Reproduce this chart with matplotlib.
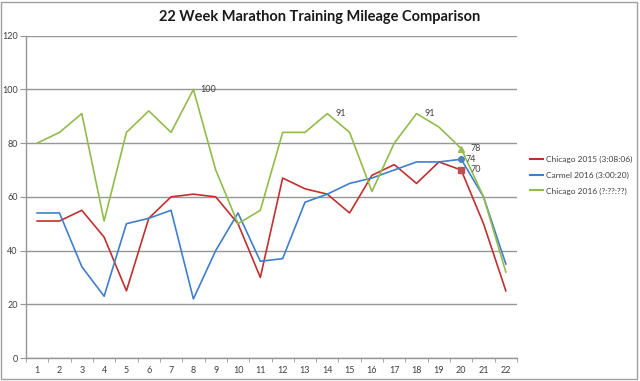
import matplotlib
matplotlib.use("Agg")
import matplotlib.pyplot as plt
from matplotlib.lines import Line2D
from matplotlib.patches import Rectangle

plt.rcParams['font.family'] = ['Lato', 'DejaVu Sans']

weeks = list(range(1, 23))
chicago_2015 = [51, 51, 55, 45, 25, 52, 60, 61, 60, 50, 30, 67, 63, 61, 54, 68, 72, 65, 73, 70, 50, 25]
carmel_2016 = [54, 54, 34, 23, 50, 52, 55, 22, 40, 54, 36, 37, 58, 61, 65, 67, 70, 73, 73, 74, 60, 35]
chicago_2016 = [80, 84, 91, 51, 84, 92, 84, 100, 70, 50, 55, 84, 84, 91, 84, 62, 80, 91, 86, 78, 60, 32]
series_names = ["Chicago 2015 (3:08:06)", "Carmel 2016 (3:00:20)", "Chicago 2016 (?:??:??)"]
title = "22 Week Marathon Training Mileage Comparison"

red = "#C0302E"
blue = "#3F7FCC"
green = "#92BC4A"
red_m = "#C0504D"
blue_m = "#4F81BD"
green_m = "#9BBB59"
text_col = "#404040"

fig = plt.figure(figsize=(6.4, 3.81), dpi=100)
fig.patch.set_facecolor("white")
fig.patches.append(Rectangle((0.002, 0.004), 0.994, 0.99, transform=fig.transFigure,
                             fill=False, edgecolor="#A0A0A0", linewidth=1.0))

W, H = 640, 381
ax = fig.add_axes([26 / W, 23 / H, (517 - 26) / W, (358 - 35.7) / H])
ax.set_xlim(0.5, 22.5)
ax.set_ylim(0, 120)
ax.set_yticks(range(0, 121, 20))
ax.yaxis.grid(True, color="#969696", linewidth=1.0)
ax.set_axisbelow(True)
for s in ["top", "right"]:
    ax.spines[s].set_visible(False)
for s in ["left", "bottom"]:
    ax.spines[s].set_color("#969696")
    ax.spines[s].set_linewidth(1.0)

ax.set_xticks(weeks)
ax.set_xticks([w + 0.5 for w in [0] + weeks], minor=True)
ax.tick_params(axis="x", which="major", length=0, pad=6, labelsize=6.5, labelcolor=text_col)
ax.tick_params(axis="x", which="minor", length=3, color="#969696", direction="out")
ax.tick_params(axis="y", length=4, color="#969696", labelsize=6.5, labelcolor=text_col, pad=2)

lw = 1.2
ax.plot(weeks, chicago_2015, color=red, lw=lw, label=series_names[0])
ax.plot(weeks, carmel_2016, color=blue, lw=lw, label=series_names[1])
ax.plot(weeks, chicago_2016, color=green, lw=lw, label=series_names[2])

i = 19
ax.plot(weeks[i], chicago_2015[i], marker="s", color=red_m, ms=5, ls="none")
ax.plot(weeks[i], carmel_2016[i], marker="o", color=blue_m, ms=4, ls="none")
ax.plot(weeks[i], chicago_2016[i], marker="^", color=green_m, ms=5, ls="none")

def lab(x, y, dx):
    ax.annotate(str(y), (x, y), xytext=(dx, 0), textcoords="offset points",
                va="center", ha="left", fontsize=6.5, color=text_col)

lab(8, chicago_2016[7], 5)
lab(14, chicago_2016[13], 6)
lab(18, chicago_2016[17], 6)
lab(20, chicago_2016[19], 6.5)
lab(20, carmel_2016[19], 3)
lab(20, chicago_2015[19], 6.5)

handles = [Line2D([], [], color=c, lw=1.5) for c in (red, blue, green)]
leg = fig.legend(handles, series_names, loc="center left", bbox_to_anchor=(530 / W, 1 - 175 / H),
                 frameon=False, fontsize=6, handlelength=1.6, handletextpad=0.3,
                 labelspacing=1.05, borderaxespad=0, borderpad=0)
for t in leg.get_texts():
    t.set_color(text_col)

fig.text(0.5, 1 - 17 / H, title, ha="center", va="center", fontsize=10.5,
         fontweight="bold", color="#1a1a1a")

fig.savefig("out.png", dpi=100)
